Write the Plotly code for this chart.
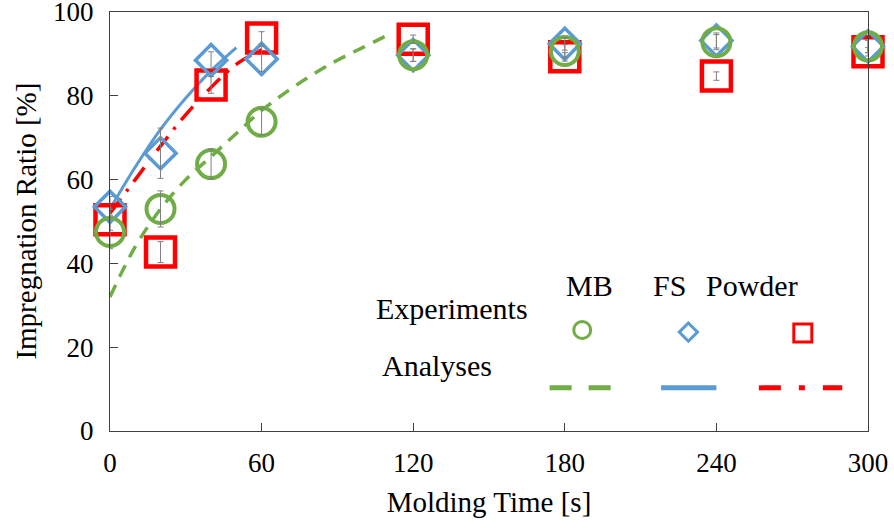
import plotly.graph_objects as go

# measured impregnation ratio [%] vs molding time [s]
time_s = [0, 20, 40, 60, 120, 180, 240, 300]
mb_exp = [47.5, 53, 63.7, 73.8, 89.7, 90.7, 92.8, 91.8]
fs_exp = [53.5, 66.3, 88.5, 88.8, 89.7, 92.4, 93.2, 91.8]
powder_exp = [50.4, 42.7, 82.6, 93.8, 93.5, 89.3, 84.7, 90.5]

mb_err = [4, 4.3, 3.6, 3.2, 1.5, 1.5, 1.8, 1.5]
fs_err = [2.5, 6, 2, 3, 1.5, 1.5, 1.8, 1.5]
powder_err = [2.5, 2.5, 2, 1.5, 1, 1, 1, 1]

# analysis curves
mb_t = [0, 10, 20, 30, 40, 50, 60, 70, 80, 90, 100, 110]
mb_ana = [32, 44, 53, 60, 65.5, 71, 76.5, 81, 85, 88.5, 91.5, 94.5]
fs_t = [0, 10, 20, 30, 40, 50]
fs_ana = [53, 63, 72, 79.5, 86, 91.5]
powder_t = [0, 10, 20, 30, 40, 50, 60]
powder_ana = [52, 60, 68, 75.5, 82, 87.5, 91]

GREEN = "#70AD47"
BLUE = "#5B9BD5"
RED = "#FF0000"
FONT = "Liberation Serif"

fig = go.Figure()

# analyses
fig.add_trace(go.Scatter(x=mb_t, y=mb_ana, mode="lines", line=dict(color=GREEN, width=3.5, dash="13px,9px", shape="spline")))
fig.add_trace(go.Scatter(x=fs_t, y=fs_ana, mode="lines", line=dict(color=BLUE, width=3, shape="spline")))
fig.add_trace(go.Scatter(x=powder_t, y=powder_ana, mode="lines", line=dict(color=RED, width=3.5, dash="18px,9px,3px,9px", shape="spline")))

# experiments
fig.add_trace(go.Scatter(x=time_s, y=powder_exp, mode="markers", cliponaxis=False,
                         marker=dict(symbol="square-open", size=29, color=RED, line=dict(width=4.5))))
fig.add_trace(go.Scatter(x=time_s, y=fs_exp, mode="markers", cliponaxis=False,
                         marker=dict(symbol="diamond-open", size=24, color=BLUE, line=dict(width=3.5))))
fig.add_trace(go.Scatter(x=time_s, y=mb_exp, mode="markers", cliponaxis=False,
                         marker=dict(symbol="circle-open", size=28, color=GREEN, line=dict(width=4))))

# error bars on top
for vals, err in [(powder_exp, powder_err), (fs_exp, fs_err), (mb_exp, mb_err)]:
    fig.add_trace(go.Scatter(x=time_s, y=vals, mode="markers", marker=dict(size=1, opacity=0),
                             error_y=dict(type="data", array=err, color="#7F7F7F", thickness=1, width=3)))

# legend glyphs on a hidden overlay axis
fig.add_trace(go.Scatter(x=[0.623], y=[0.241], mode="markers", xaxis="x2", yaxis="y2",
                         marker=dict(symbol="circle-open", size=17, color=GREEN, line=dict(width=3))))
fig.add_trace(go.Scatter(x=[0.763], y=[0.236], mode="markers", xaxis="x2", yaxis="y2",
                         marker=dict(symbol="diamond-open", size=14, color=BLUE, line=dict(width=3))))
fig.add_trace(go.Scatter(x=[0.914], y=[0.234], mode="markers", xaxis="x2", yaxis="y2",
                         marker=dict(symbol="square-open", size=18, color=RED, line=dict(width=3))))
fig.add_trace(go.Scatter(x=[0.580, 0.662], y=[0.103, 0.103], mode="lines", xaxis="x2", yaxis="y2",
                         line=dict(color=GREEN, width=5, dash="22px,17px")))
fig.add_trace(go.Scatter(x=[0.727, 0.800], y=[0.103, 0.103], mode="lines", xaxis="x2", yaxis="y2",
                         line=dict(color=BLUE, width=5)))
fig.add_trace(go.Scatter(x=[0.856, 0.966], y=[0.103, 0.103], mode="lines", xaxis="x2", yaxis="y2",
                         line=dict(color=RED, width=5, dash="22px,18px,6px,18px")))

anno_font = dict(family=FONT, size=30, color="black")
for txt, x, y in [("MB", 0.633, 0.348), ("FS", 0.763, 0.348), ("Powder", 0.910, 0.348),
                  ("Experiments", 0.451, 0.248), ("Analyses", 0.432, 0.112)]:
    fig.add_annotation(text=txt, x=x, y=y, xref="paper", yref="paper", showarrow=False, font=anno_font)

# y axis title
fig.add_annotation(text="Impregnation Ratio [%]", x=-0.112, y=0.5, xref="paper", yref="paper",
                   xanchor="center", yanchor="middle",
                   showarrow=False, textangle=-90, font=dict(family=FONT, size=29, color="black"))

axis_common = dict(showgrid=False, zeroline=False, showline=True, linecolor="#404040", linewidth=1,
                   mirror=True, ticks="inside", ticklen=8, tickcolor="#404040", automargin=False,
                   ticklabeloverflow="allow",
                   tickfont=dict(family=FONT, size=27, color="black"))

fig.update_layout(
    width=894, height=529,
    margin=dict(l=110, r=26, t=12, b=98),
    plot_bgcolor="white", paper_bgcolor="white",
    showlegend=False,
    xaxis=dict(range=[0, 300], tickvals=[0, 60, 120, 180, 240, 300], ticklabelstandoff=8,
               title=dict(text="Molding Time [s]", font=dict(family=FONT, size=29, color="black"), standoff=14),
               **axis_common),
    yaxis=dict(range=[0, 100], tickvals=[0, 20, 40, 60, 80, 100], ticklabelstandoff=10,
               **axis_common),
    xaxis2=dict(range=[0, 1], overlaying="x", visible=False),
    yaxis2=dict(range=[0, 1], overlaying="y", visible=False),
)

fig.write_html("out.html", config={"displayModeBar": False},
               post_script="document.body.style.margin='0';")
